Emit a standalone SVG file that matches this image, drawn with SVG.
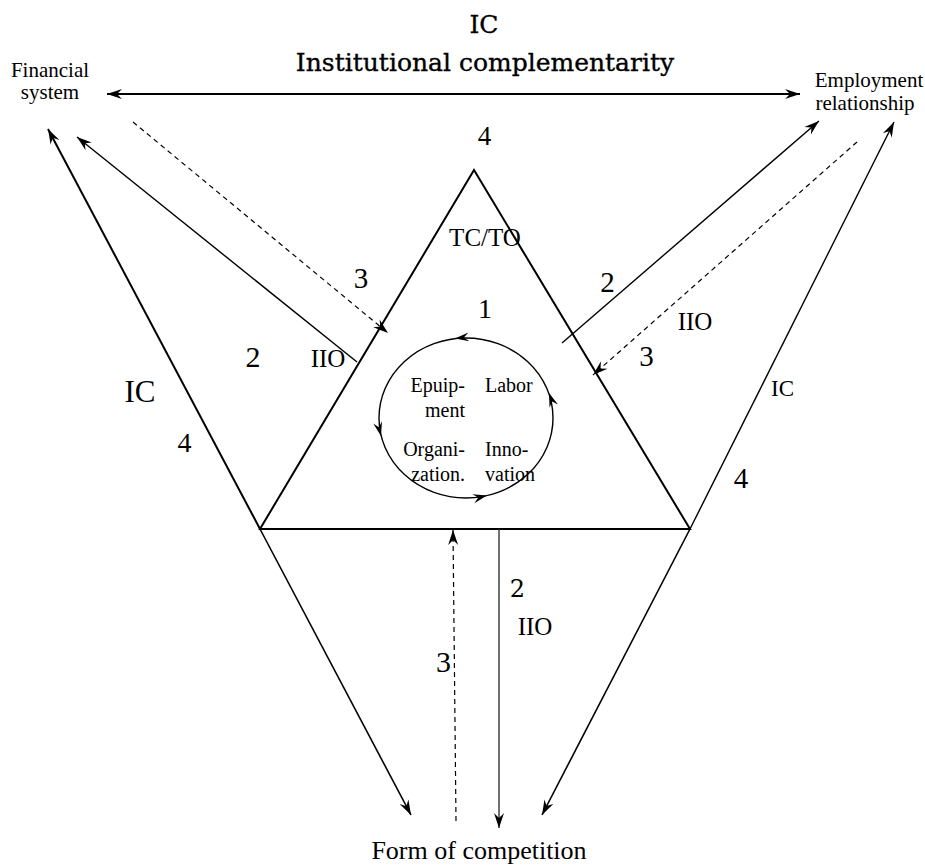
<svg xmlns="http://www.w3.org/2000/svg" width="925" height="866" viewBox="0 0 925 866">
  <style>
    text { font-family: "Liberation Serif", "Times New Roman", serif; fill: #000; }
    .title { font-family: "DejaVu Serif", "Liberation Serif", serif; font-size: 25px; text-anchor: middle; stroke: #000; stroke-width: 0.35; }
    .inst { font-size: 21px; text-anchor: middle; }
    .num { font-size: 28px; text-anchor: middle; }
    .lbl { font-size: 25px; text-anchor: middle; }
    .cell { font-size: 20px; }
    .ln { fill: none; stroke: #000; stroke-width: 1.4; }
    .thick { stroke-width: 2; }
    .dash { stroke-dasharray: 5 4; stroke-width: 1.2; }
    .head { fill: #000; stroke: none; }
  </style>
  <defs>
    <marker id="ah" viewBox="-16 -6 18 12" refX="0" refY="0" markerWidth="18" markerHeight="12" markerUnits="userSpaceOnUse" orient="auto-start-reverse">
      <path class="head" d="M0,0 L-15,-5 L-10,0 L-15,5 Z"/>
    </marker>
    <path id="cah" class="head" d="M0,0 L-14,-4.5 L-9,0 L-14,4.5 Z"/>
  </defs>

  <rect width="925" height="866" fill="#fff"/>

  <!-- heading -->
  <g id="title">
    <text class="title" x="484" y="33">IC</text>
    <text class="title" x="485" y="71">Institutional complementarity</text>
  </g>

  <!-- institutional forms -->
  <g id="financial-system">
    <text class="inst" x="50" y="77">Financial</text>
    <text class="inst" x="50" y="99">system</text>
  </g>
  <g id="employment-relationship">
    <text class="inst" x="869" y="87">Employment</text>
    <text class="inst" x="865" y="110">relationship</text>
  </g>
  <g id="form-of-competition">
    <text class="lbl" x="479" y="859" style="font-size:26px">Form of competition</text>
  </g>

  <!-- firm triangle -->
  <g id="firm">
    <polygon class="ln thick" points="474,170 260,529 690,529"/>
    <text class="num" x="484.5" y="145" style="font-size:27px">4</text>
    <text class="lbl" x="485" y="246">TC/TO</text>
    <text class="num" x="485" y="318">1</text>
  </g>

  <!-- internal cycle of the firm -->
  <g id="cycle">
    <ellipse class="ln" cx="466" cy="418" rx="87" ry="80"/>
    <use href="#cah" transform="translate(455,338.6) rotate(173)"/>
    <use href="#cah" transform="translate(381,436) rotate(76)"/>
    <use href="#cah" transform="translate(487,495.6) rotate(-13)"/>
    <use href="#cah" transform="translate(549,393) rotate(-110)"/>
    <text class="cell" x="465" y="392" text-anchor="end">Epuip-</text>
    <text class="cell" x="465" y="417" text-anchor="end">ment</text>
    <text class="cell" x="465" y="456" text-anchor="end">Organi-</text>
    <text class="cell" x="465" y="481" text-anchor="end">zation.</text>
    <text class="cell" x="485" y="392">Labor</text>
    <text class="cell" x="485" y="456">Inno-</text>
    <text class="cell" x="485" y="481">vation</text>
  </g>

  <!-- connectors -->
  <g id="connectors">
    <!-- IC between financial system and employment relationship -->
    <line class="ln thick" x1="107" y1="94" x2="800" y2="94" marker-start="url(#ah)" marker-end="url(#ah)"/>
    <!-- left IC edge -->
    <line class="ln thick" x1="260" y1="529" x2="48" y2="129" marker-end="url(#ah)"/>
    <line class="ln" style="stroke-width:1.6" x1="260" y1="529" x2="411" y2="815" marker-end="url(#ah)"/>
    <!-- right IC edge -->
    <line class="ln" x1="690" y1="529" x2="894" y2="122" marker-end="url(#ah)"/>
    <line class="ln" style="stroke-width:1.6" x1="690" y1="529" x2="542" y2="815" marker-end="url(#ah)"/>
    <!-- financial system links -->
    <line class="ln" x1="357" y1="362" x2="77" y2="137" marker-end="url(#ah)"/>
    <line class="ln dash" x1="133" y1="122" x2="388" y2="333" marker-end="url(#ah)"/>
    <!-- employment relationship links -->
    <line class="ln" x1="562" y1="343" x2="819" y2="121" marker-end="url(#ah)"/>
    <line class="ln dash" x1="857" y1="142" x2="593" y2="375" marker-end="url(#ah)"/>
    <!-- form of competition links -->
    <line class="ln dash" x1="456" y1="821" x2="453" y2="530" marker-end="url(#ah)"/>
    <line class="ln" style="stroke:#333" x1="499" y1="529" x2="499" y2="828" marker-end="url(#ah)"/>
  </g>

  <!-- connector labels -->
  <g id="labels">
    <text class="num" x="361" y="288" style="font-size:29px">3</text>
    <text class="num" x="253" y="367" style="font-size:30px">2</text>
    <text class="lbl" x="328" y="367">IIO</text>
    <text class="lbl" x="140" y="402" style="font-size:31px">IC</text>
    <text class="num" x="184.5" y="452">4</text>
    <text class="num" x="607.5" y="292" style="font-size:29px">2</text>
    <text class="lbl" x="695" y="330">IIO</text>
    <text class="num" x="646.5" y="366" style="font-size:29px">3</text>
    <text class="lbl" x="782.5" y="396" style="font-size:23px">IC</text>
    <text class="num" x="741" y="488" style="font-size:29px">4</text>
    <text class="num" x="517.5" y="597" style="font-family:'DejaVu Serif','Liberation Serif',serif;font-size:24px">2</text>
    <text class="lbl" x="535" y="635">IIO</text>
    <text class="num" x="443.5" y="672" style="font-size:30px">3</text>
  </g>
</svg>
